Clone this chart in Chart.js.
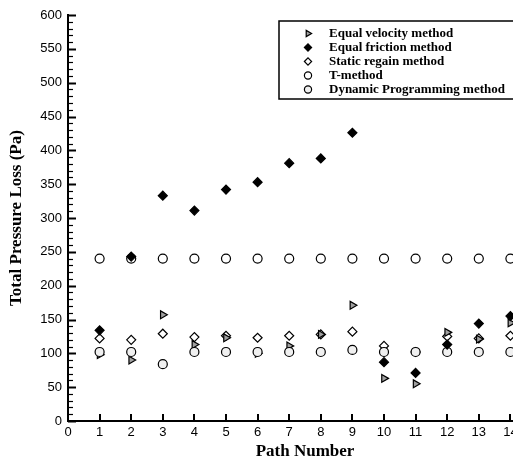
<!DOCTYPE html>
<html>
<head>
<meta charset="utf-8">
<script src="https://cdn.jsdelivr.net/npm/chart.js@4.4.1/dist/chart.umd.min.js"></script>
<style>
  html, body { margin: 0; padding: 0; background: #fff; overflow: hidden; }
  #wrap { width: 560px; height: 463px; }
</style>
</head>
<body>
<div id="wrap"><canvas id="lossChart" width="560" height="463"></canvas></div>
<script>
// values
const paths = [1, 2, 3, 4, 5, 6, 7, 8, 9, 10, 11, 12, 13, 14];
const equalVelocity = [98, 90, 157, 113, 123, 100, 111, 128, 171, 63, 55, 131, 121, 145];
const equalFriction = [134, 243, 333, 311, 342, 353, 381, 388, 426, 87, 71, 113, 144, 155];
const staticRegain = [122, 120, 129, 124, 126, 123, 126, 128, 132, 111, 102, 125, 122, 126];
const tMethod = [240, 240, 240, 240, 240, 240, 240, 240, 240, 240, 240, 240, 240, 240];
const dynamicProg = [102, 102, 84, 102, 102, 102, 102, 102, 105, 102, 102, 102, 102, 102];
const yTicks = [0, 50, 100, 150, 200, 250, 300, 350, 400, 450, 500, 550, 600];

const serif = '"Liberation Serif", "Times New Roman", serif';
const sans = '"Liberation Sans", Arial, sans-serif';

function toPoints(values) {
    return paths.map((p, i) => ({ x: p, y: values[i] }));
}

// tecplot style ticks pointing into the plot
const innerTicks = {
    id: 'innerTicks',
    beforeDatasetsDraw(chart) {
        const { ctx, chartArea, scales } = chart;
        ctx.save();
        ctx.strokeStyle = '#000';
        for (let v = 0; v <= 600; v += 10) {
            const y = Math.round(scales.y.getPixelForValue(v)) + 0.5;
            const major = v % 50 === 0;
            ctx.lineWidth = major ? 2 : 1.2;
            ctx.beginPath();
            ctx.moveTo(chartArea.left, y);
            ctx.lineTo(chartArea.left + (major ? 8 : 5), y);
            ctx.stroke();
        }
        ctx.lineWidth = 2;
        for (let n = 1; n <= 15; n++) {
            const x = Math.round(scales.x.getPixelForValue(n));
            ctx.beginPath();
            ctx.moveTo(x, chartArea.bottom);
            ctx.lineTo(x, chartArea.bottom - 7);
            ctx.stroke();
        }
        ctx.restore();
    }
};

function drawMarker(ctx, style, x, y, r) {
    ctx.beginPath();
    if (style === 'triangle') {
        ctx.moveTo(x + r, y);
        ctx.lineTo(x - r / 2, y - r * 0.866);
        ctx.lineTo(x - r / 2, y + r * 0.866);
        ctx.closePath();
    } else if (style === 'rectRot') {
        ctx.moveTo(x - r, y);
        ctx.lineTo(x, y - r);
        ctx.lineTo(x + r, y);
        ctx.lineTo(x, y + r);
        ctx.closePath();
    } else {
        ctx.arc(x, y, r, 0, Math.PI * 2);
    }
    ctx.fill();
    ctx.stroke();
}

const boxLegend = {
    id: 'boxLegend',
    afterDraw(chart) {
        const { ctx } = chart;
        ctx.save();
        ctx.fillStyle = '#fff';
        ctx.fillRect(279, 21, 260, 78);
        ctx.strokeStyle = '#000';
        ctx.lineWidth = 1.5;
        ctx.strokeRect(279, 21, 260, 78);
        chart.data.datasets.forEach((ds, i) => {
            const y = 33.5 + i * 14;
            ctx.fillStyle = ds.backgroundColor;
            ctx.strokeStyle = '#000';
            ctx.lineWidth = 1.2;
            drawMarker(ctx, ds.pointStyle, 308, y, 3.6);
            ctx.fillStyle = '#000';
            ctx.font = 'bold 13px ' + serif;
            ctx.textBaseline = 'middle';
            ctx.textAlign = 'left';
            ctx.fillText(ds.label, 329, y + 0.5);
        });
        ctx.restore();
    }
};

document.addEventListener('DOMContentLoaded', () => {
    const ctx = document.getElementById('lossChart').getContext('2d');

    const common = { showLine: false, borderColor: '#000', borderWidth: 1.2, pointRadius: 4.5, pointHoverRadius: 4.5 };

    new Chart(ctx, {
        type: 'scatter',
        data: {
            datasets: [
                { ...common, label: 'Equal velocity method', data: toPoints(equalVelocity), pointStyle: 'triangle', rotation: 90, backgroundColor: '#a0a0a0', order: 2 },
                { ...common, label: 'Equal friction method', data: toPoints(equalFriction), pointStyle: 'rectRot', backgroundColor: '#000', order: 0 },
                { ...common, label: 'Static regain method', data: toPoints(staticRegain), pointStyle: 'rectRot', backgroundColor: '#fff', order: 3 },
                { ...common, label: 'T-method', data: toPoints(tMethod), pointStyle: 'circle', backgroundColor: '#fff', order: 4 },
                { ...common, label: 'Dynamic Programming method', data: toPoints(dynamicProg), pointStyle: 'circle', backgroundColor: '#f0f0f0', order: 1 }
            ]
        },
        options: {
            responsive: false,
            animation: false,
            layout: { padding: { top: 15, right: 18, left: 0, bottom: 0 } },
            plugins: { legend: { display: false }, tooltip: { enabled: false } },
            scales: {
                x: {
                    type: 'linear', min: 0, max: 15,
                    grid: { display: false, drawTicks: false },
                    border: { display: true, color: '#000', width: 2 },
                    ticks: { stepSize: 1, padding: 4, color: '#000', font: { family: sans, size: 13 }, maxRotation: 0 },
                    title: { display: true, text: 'Path Number', color: '#000', font: { family: serif, size: 17, weight: 'bold' }, padding: { top: 0, bottom: 1 } },
                    afterFit(scale) { scale.height = 42; }
                },
                y: {
                    type: 'linear', min: 0, max: 600,
                    grid: { display: false, drawTicks: false },
                    border: { display: true, color: '#000', width: 2 },
                    afterBuildTicks(scale) { scale.ticks = yTicks.map(v => ({ value: v })); },
                    ticks: { padding: 6, color: '#000', font: { family: sans, size: 13 } },
                    title: { display: true, text: 'Total Pressure Loss (Pa)', color: '#000', font: { family: serif, size: 17, weight: 'bold' }, padding: { top: 6, bottom: 0 } },
                    afterFit(scale) { scale.width = 68; }
                }
            }
        },
        plugins: [innerTicks, boxLegend]
    });
});
</script>
</body>
</html>
